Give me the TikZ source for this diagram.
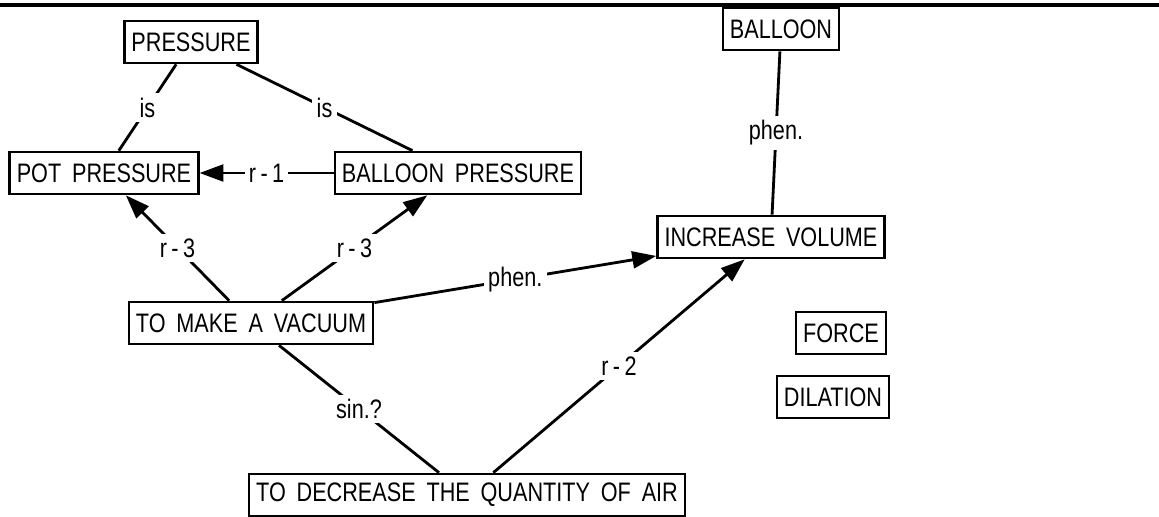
\documentclass[tikz,border=0pt]{standalone}
\usepackage{fontspec}
\setmainfont{Liberation Sans}[FakeStretch=0.81, WordSpace=1.8]
\usepackage{tikz}
\usetikzlibrary{arrows.meta}

\begin{document}
\begin{tikzpicture}[
    x=0.025cm, y=-0.025cm, line width=2pt,
    every node/.style={rectangle, draw, line width=1.9pt, minimum height=1.05cm,
      inner xsep=5pt, font=\fontsize{19}{22}\selectfont},
    edge label/.style={draw=none, fill=white, minimum height=0pt, inner sep=3pt},
    >={Triangle[length=17pt, width=12pt]},
  ]
  \useasboundingbox (0,0) rectangle (1159,517);

  % Rule across the top
  \draw[line width=2.8pt] (0,5) -- (1159,5);

  % Nodes
  \node (pressure) at (191, 42)  {PRESSURE};
  \node (pot)      at (104, 173) {POT PRESSURE};
  \node (bpress)   at (458, 173) {BALLOON PRESSURE};
  \node (balloon)  at (781, 29)  {BALLOON};
  \node (volume)   at (771, 237) {INCREASE VOLUME};
  \node (vacuum)   at (251, 323) {TO MAKE A VACUUM};
  \node (force)    at (841, 333) {FORCE};
  \node (dilation) at (833, 397) {DILATION};
  \node (air)      at (467, 495) {TO DECREASE THE QUANTITY OF AIR};

  % Edges
  \draw (pressure) -- node[edge label] {is} (pot);
  \draw (pressure) -- node[edge label] {is} (bpress);
  \draw[->] (bpress) -- node[edge label] {r\,-\,1} (pot);
  \draw[->] (vacuum) -- node[edge label] {r\,-\,3} (pot);
  \draw[->] (vacuum) -- node[edge label] {r\,-\,3} (bpress);
  \draw[->] (vacuum) -- node[edge label] {phen.} (volume);
  \draw[->] (air) -- node[edge label] {r\,-\,2} (volume);
  \draw (vacuum) -- node[edge label] {sin.?} (air);
  \draw (balloon) -- node[edge label] {phen.} (volume);

\end{tikzpicture}
\end{document}
